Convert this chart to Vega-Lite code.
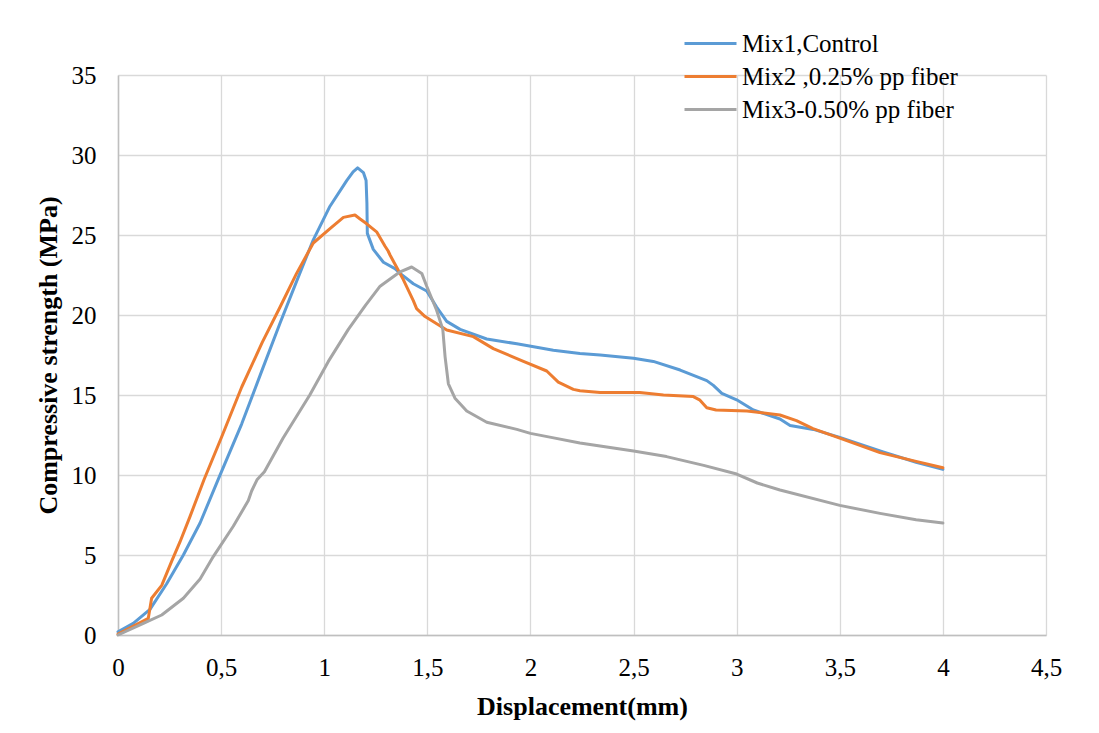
{
  "$schema": "https://vega.github.io/schema/vega-lite/v6.json",
  "autosize": "none",
  "width": 928,
  "height": 560,
  "padding": {"left": 118, "top": 75, "right": 53, "bottom": 98},
  "background": "white",
  "config": {
    "view": {"stroke": null},
    "font": "Liberation Serif",
    "axis": {
      "grid": true,
      "gridColor": "#d9d9d9",
      "gridWidth": 1.3,
      "domainColor": "#bfbfbf",
      "domainWidth": 1.5,
      "ticks": false,
      "labelFont": "Liberation Serif",
      "labelFontSize": 25,
      "labelColor": "#000000",
      "titleFont": "Liberation Serif",
      "titleFontSize": 26,
      "titleFontWeight": "bold",
      "titleColor": "#000000",
      "labelFlush": false,
      "labelOverlap": false
    }
  },
  "data": {
    "values": [
      {"series": "Mix1,Control", "disp": 0, "stress": 0.2},
      {"series": "Mix1,Control", "disp": 0.074, "stress": 0.73},
      {"series": "Mix1,Control", "disp": 0.155, "stress": 1.6},
      {"series": "Mix1,Control", "disp": 0.236, "stress": 3.2},
      {"series": "Mix1,Control", "disp": 0.317, "stress": 5.0},
      {"series": "Mix1,Control", "disp": 0.398, "stress": 7.0},
      {"series": "Mix1,Control", "disp": 0.485, "stress": 9.7},
      {"series": "Mix1,Control", "disp": 0.6, "stress": 13.2},
      {"series": "Mix1,Control", "disp": 0.7, "stress": 16.6},
      {"series": "Mix1,Control", "disp": 0.786, "stress": 19.5},
      {"series": "Mix1,Control", "disp": 0.866, "stress": 22.1},
      {"series": "Mix1,Control", "disp": 0.947, "stress": 24.7},
      {"series": "Mix1,Control", "disp": 1.028, "stress": 26.8},
      {"series": "Mix1,Control", "disp": 1.109, "stress": 28.4},
      {"series": "Mix1,Control", "disp": 1.14, "stress": 28.95},
      {"series": "Mix1,Control", "disp": 1.162, "stress": 29.2},
      {"series": "Mix1,Control", "disp": 1.19, "stress": 28.9},
      {"series": "Mix1,Control", "disp": 1.203, "stress": 28.4},
      {"series": "Mix1,Control", "disp": 1.207, "stress": 27.0},
      {"series": "Mix1,Control", "disp": 1.209, "stress": 25.1},
      {"series": "Mix1,Control", "disp": 1.238, "stress": 24.1},
      {"series": "Mix1,Control", "disp": 1.287, "stress": 23.3},
      {"series": "Mix1,Control", "disp": 1.343, "stress": 22.9},
      {"series": "Mix1,Control", "disp": 1.368, "stress": 22.6},
      {"series": "Mix1,Control", "disp": 1.432, "stress": 21.95},
      {"series": "Mix1,Control", "disp": 1.497, "stress": 21.5},
      {"series": "Mix1,Control", "disp": 1.545, "stress": 20.5},
      {"series": "Mix1,Control", "disp": 1.594, "stress": 19.6},
      {"series": "Mix1,Control", "disp": 1.659, "stress": 19.1},
      {"series": "Mix1,Control", "disp": 1.788, "stress": 18.5},
      {"series": "Mix1,Control", "disp": 1.934, "stress": 18.2},
      {"series": "Mix1,Control", "disp": 2.111, "stress": 17.8},
      {"series": "Mix1,Control", "disp": 2.24, "stress": 17.6},
      {"series": "Mix1,Control", "disp": 2.338, "stress": 17.5},
      {"series": "Mix1,Control", "disp": 2.5, "stress": 17.3},
      {"series": "Mix1,Control", "disp": 2.596, "stress": 17.1},
      {"series": "Mix1,Control", "disp": 2.726, "stress": 16.56},
      {"series": "Mix1,Control", "disp": 2.855, "stress": 15.9},
      {"series": "Mix1,Control", "disp": 2.887, "stress": 15.6},
      {"series": "Mix1,Control", "disp": 2.928, "stress": 15.1},
      {"series": "Mix1,Control", "disp": 3.0, "stress": 14.7},
      {"series": "Mix1,Control", "disp": 3.081, "stress": 14.06},
      {"series": "Mix1,Control", "disp": 3.21, "stress": 13.5},
      {"series": "Mix1,Control", "disp": 3.259, "stress": 13.1},
      {"series": "Mix1,Control", "disp": 3.372, "stress": 12.85},
      {"series": "Mix1,Control", "disp": 3.5, "stress": 12.35},
      {"series": "Mix1,Control", "disp": 3.71, "stress": 11.45},
      {"series": "Mix1,Control", "disp": 3.87, "stress": 10.8},
      {"series": "Mix1,Control", "disp": 4.0, "stress": 10.35},

      {"series": "Mix2 ,0.25% pp fiber", "disp": 0, "stress": 0.05},
      {"series": "Mix2 ,0.25% pp fiber", "disp": 0.147, "stress": 1.04},
      {"series": "Mix2 ,0.25% pp fiber", "disp": 0.163, "stress": 2.3},
      {"series": "Mix2 ,0.25% pp fiber", "disp": 0.212, "stress": 3.1},
      {"series": "Mix2 ,0.25% pp fiber", "disp": 0.26, "stress": 4.6},
      {"series": "Mix2 ,0.25% pp fiber", "disp": 0.3, "stress": 5.8},
      {"series": "Mix2 ,0.25% pp fiber", "disp": 0.349, "stress": 7.4},
      {"series": "Mix2 ,0.25% pp fiber", "disp": 0.417, "stress": 9.7},
      {"series": "Mix2 ,0.25% pp fiber", "disp": 0.5, "stress": 12.3},
      {"series": "Mix2 ,0.25% pp fiber", "disp": 0.6, "stress": 15.5},
      {"series": "Mix2 ,0.25% pp fiber", "disp": 0.7, "stress": 18.3},
      {"series": "Mix2 ,0.25% pp fiber", "disp": 0.786, "stress": 20.5},
      {"series": "Mix2 ,0.25% pp fiber", "disp": 0.866, "stress": 22.6},
      {"series": "Mix2 ,0.25% pp fiber", "disp": 0.947, "stress": 24.5},
      {"series": "Mix2 ,0.25% pp fiber", "disp": 1.028, "stress": 25.4},
      {"series": "Mix2 ,0.25% pp fiber", "disp": 1.093, "stress": 26.1},
      {"series": "Mix2 ,0.25% pp fiber", "disp": 1.149, "stress": 26.25},
      {"series": "Mix2 ,0.25% pp fiber", "disp": 1.174, "stress": 26.0},
      {"series": "Mix2 ,0.25% pp fiber", "disp": 1.206, "stress": 25.7},
      {"series": "Mix2 ,0.25% pp fiber", "disp": 1.254, "stress": 25.2},
      {"series": "Mix2 ,0.25% pp fiber", "disp": 1.295, "stress": 24.3},
      {"series": "Mix2 ,0.25% pp fiber", "disp": 1.31, "stress": 24.0},
      {"series": "Mix2 ,0.25% pp fiber", "disp": 1.319, "stress": 23.75},
      {"series": "Mix2 ,0.25% pp fiber", "disp": 1.384, "stress": 22.2},
      {"series": "Mix2 ,0.25% pp fiber", "disp": 1.432, "stress": 20.9},
      {"series": "Mix2 ,0.25% pp fiber", "disp": 1.448, "stress": 20.4},
      {"series": "Mix2 ,0.25% pp fiber", "disp": 1.489, "stress": 19.9},
      {"series": "Mix2 ,0.25% pp fiber", "disp": 1.594, "stress": 19.06},
      {"series": "Mix2 ,0.25% pp fiber", "disp": 1.723, "stress": 18.65},
      {"series": "Mix2 ,0.25% pp fiber", "disp": 1.82, "stress": 17.9},
      {"series": "Mix2 ,0.25% pp fiber", "disp": 1.966, "stress": 17.1},
      {"series": "Mix2 ,0.25% pp fiber", "disp": 2.079, "stress": 16.5},
      {"series": "Mix2 ,0.25% pp fiber", "disp": 2.135, "stress": 15.8},
      {"series": "Mix2 ,0.25% pp fiber", "disp": 2.208, "stress": 15.35},
      {"series": "Mix2 ,0.25% pp fiber", "disp": 2.24, "stress": 15.27},
      {"series": "Mix2 ,0.25% pp fiber", "disp": 2.338, "stress": 15.15},
      {"series": "Mix2 ,0.25% pp fiber", "disp": 2.53, "stress": 15.16},
      {"series": "Mix2 ,0.25% pp fiber", "disp": 2.645, "stress": 15.0},
      {"series": "Mix2 ,0.25% pp fiber", "disp": 2.79, "stress": 14.9},
      {"series": "Mix2 ,0.25% pp fiber", "disp": 2.82, "stress": 14.7},
      {"series": "Mix2 ,0.25% pp fiber", "disp": 2.855, "stress": 14.2},
      {"series": "Mix2 ,0.25% pp fiber", "disp": 2.9, "stress": 14.06},
      {"series": "Mix2 ,0.25% pp fiber", "disp": 3.05, "stress": 14.0},
      {"series": "Mix2 ,0.25% pp fiber", "disp": 3.21, "stress": 13.75},
      {"series": "Mix2 ,0.25% pp fiber", "disp": 3.29, "stress": 13.4},
      {"series": "Mix2 ,0.25% pp fiber", "disp": 3.37, "stress": 12.9},
      {"series": "Mix2 ,0.25% pp fiber", "disp": 3.5, "stress": 12.3},
      {"series": "Mix2 ,0.25% pp fiber", "disp": 3.695, "stress": 11.4},
      {"series": "Mix2 ,0.25% pp fiber", "disp": 3.87, "stress": 10.85},
      {"series": "Mix2 ,0.25% pp fiber", "disp": 4.0, "stress": 10.45},

      {"series": "Mix3-0.50% pp fiber", "disp": 0, "stress": 0},
      {"series": "Mix3-0.50% pp fiber", "disp": 0.123, "stress": 0.73},
      {"series": "Mix3-0.50% pp fiber", "disp": 0.212, "stress": 1.25},
      {"series": "Mix3-0.50% pp fiber", "disp": 0.317, "stress": 2.3},
      {"series": "Mix3-0.50% pp fiber", "disp": 0.398, "stress": 3.5},
      {"series": "Mix3-0.50% pp fiber", "disp": 0.462, "stress": 4.9},
      {"series": "Mix3-0.50% pp fiber", "disp": 0.559, "stress": 6.8},
      {"series": "Mix3-0.50% pp fiber", "disp": 0.632, "stress": 8.4},
      {"series": "Mix3-0.50% pp fiber", "disp": 0.648, "stress": 9.0},
      {"series": "Mix3-0.50% pp fiber", "disp": 0.674, "stress": 9.7},
      {"series": "Mix3-0.50% pp fiber", "disp": 0.71, "stress": 10.2},
      {"series": "Mix3-0.50% pp fiber", "disp": 0.8, "stress": 12.3},
      {"series": "Mix3-0.50% pp fiber", "disp": 0.93, "stress": 15.0},
      {"series": "Mix3-0.50% pp fiber", "disp": 1.02, "stress": 17.1},
      {"series": "Mix3-0.50% pp fiber", "disp": 1.117, "stress": 19.1},
      {"series": "Mix3-0.50% pp fiber", "disp": 1.2, "stress": 20.6},
      {"series": "Mix3-0.50% pp fiber", "disp": 1.271, "stress": 21.8},
      {"series": "Mix3-0.50% pp fiber", "disp": 1.368, "stress": 22.7},
      {"series": "Mix3-0.50% pp fiber", "disp": 1.424, "stress": 23.0},
      {"series": "Mix3-0.50% pp fiber", "disp": 1.473, "stress": 22.6},
      {"series": "Mix3-0.50% pp fiber", "disp": 1.497, "stress": 21.8},
      {"series": "Mix3-0.50% pp fiber", "disp": 1.545, "stress": 20.3},
      {"series": "Mix3-0.50% pp fiber", "disp": 1.575, "stress": 19.1},
      {"series": "Mix3-0.50% pp fiber", "disp": 1.586, "stress": 17.4},
      {"series": "Mix3-0.50% pp fiber", "disp": 1.602, "stress": 15.7},
      {"series": "Mix3-0.50% pp fiber", "disp": 1.634, "stress": 14.8},
      {"series": "Mix3-0.50% pp fiber", "disp": 1.691, "stress": 14.0},
      {"series": "Mix3-0.50% pp fiber", "disp": 1.788, "stress": 13.3},
      {"series": "Mix3-0.50% pp fiber", "disp": 1.934, "stress": 12.85},
      {"series": "Mix3-0.50% pp fiber", "disp": 2.0, "stress": 12.6},
      {"series": "Mix3-0.50% pp fiber", "disp": 2.1, "stress": 12.35},
      {"series": "Mix3-0.50% pp fiber", "disp": 2.24, "stress": 12.0},
      {"series": "Mix3-0.50% pp fiber", "disp": 2.5, "stress": 11.5},
      {"series": "Mix3-0.50% pp fiber", "disp": 2.66, "stress": 11.15},
      {"series": "Mix3-0.50% pp fiber", "disp": 2.84, "stress": 10.6},
      {"series": "Mix3-0.50% pp fiber", "disp": 3.0, "stress": 10.06},
      {"series": "Mix3-0.50% pp fiber", "disp": 3.1, "stress": 9.5},
      {"series": "Mix3-0.50% pp fiber", "disp": 3.21, "stress": 9.06},
      {"series": "Mix3-0.50% pp fiber", "disp": 3.5, "stress": 8.1},
      {"series": "Mix3-0.50% pp fiber", "disp": 3.695, "stress": 7.6},
      {"series": "Mix3-0.50% pp fiber", "disp": 3.87, "stress": 7.2},
      {"series": "Mix3-0.50% pp fiber", "disp": 4.0, "stress": 7.0}
    ]
  },
  "mark": {"type": "line", "strokeWidth": 3, "strokeJoin": "round", "strokeCap": "round"},
  "encoding": {
    "x": {
      "field": "disp",
      "type": "quantitative",
      "scale": {"domain": [0, 4.5], "nice": false},
      "axis": {
        "values": [0, 0.5, 1, 1.5, 2, 2.5, 3, 3.5, 4, 4.5],
        "labelExpr": "replace(format(datum.value, '.2~f'), '.', ',')",
        "labelPadding": 20,
        "title": "Displacement(mm)",
        "titlePadding": 13
      }
    },
    "y": {
      "field": "stress",
      "type": "quantitative",
      "scale": {"domain": [0, 35], "nice": false},
      "axis": {
        "values": [0, 5, 10, 15, 20, 25, 30, 35],
        "labelPadding": 22,
        "title": "Compressive strength (MPa)",
        "titlePadding": 10
      }
    },
    "color": {
      "field": "series",
      "type": "nominal",
      "scale": {
        "domain": ["Mix1,Control", "Mix2 ,0.25% pp fiber", "Mix3-0.50% pp fiber"],
        "range": ["#5b9bd5", "#ed7d31", "#a5a5a5"]
      },
      "legend": {
        "title": null,
        "orient": "none",
        "legendX": 578,
        "legendY": -46,
        "symbolType": "M-2,0H2",
        "symbolSize": 676,
        "symbolStrokeWidth": 3,
        "symbolFillColor": "transparent",
        "labelFont": "Liberation Serif",
        "labelFontSize": 25,
        "labelColor": "#000000",
        "labelOffset": 17,
        "labelLimit": 400,
        "rowPadding": 5
      }
    }
  }
}
